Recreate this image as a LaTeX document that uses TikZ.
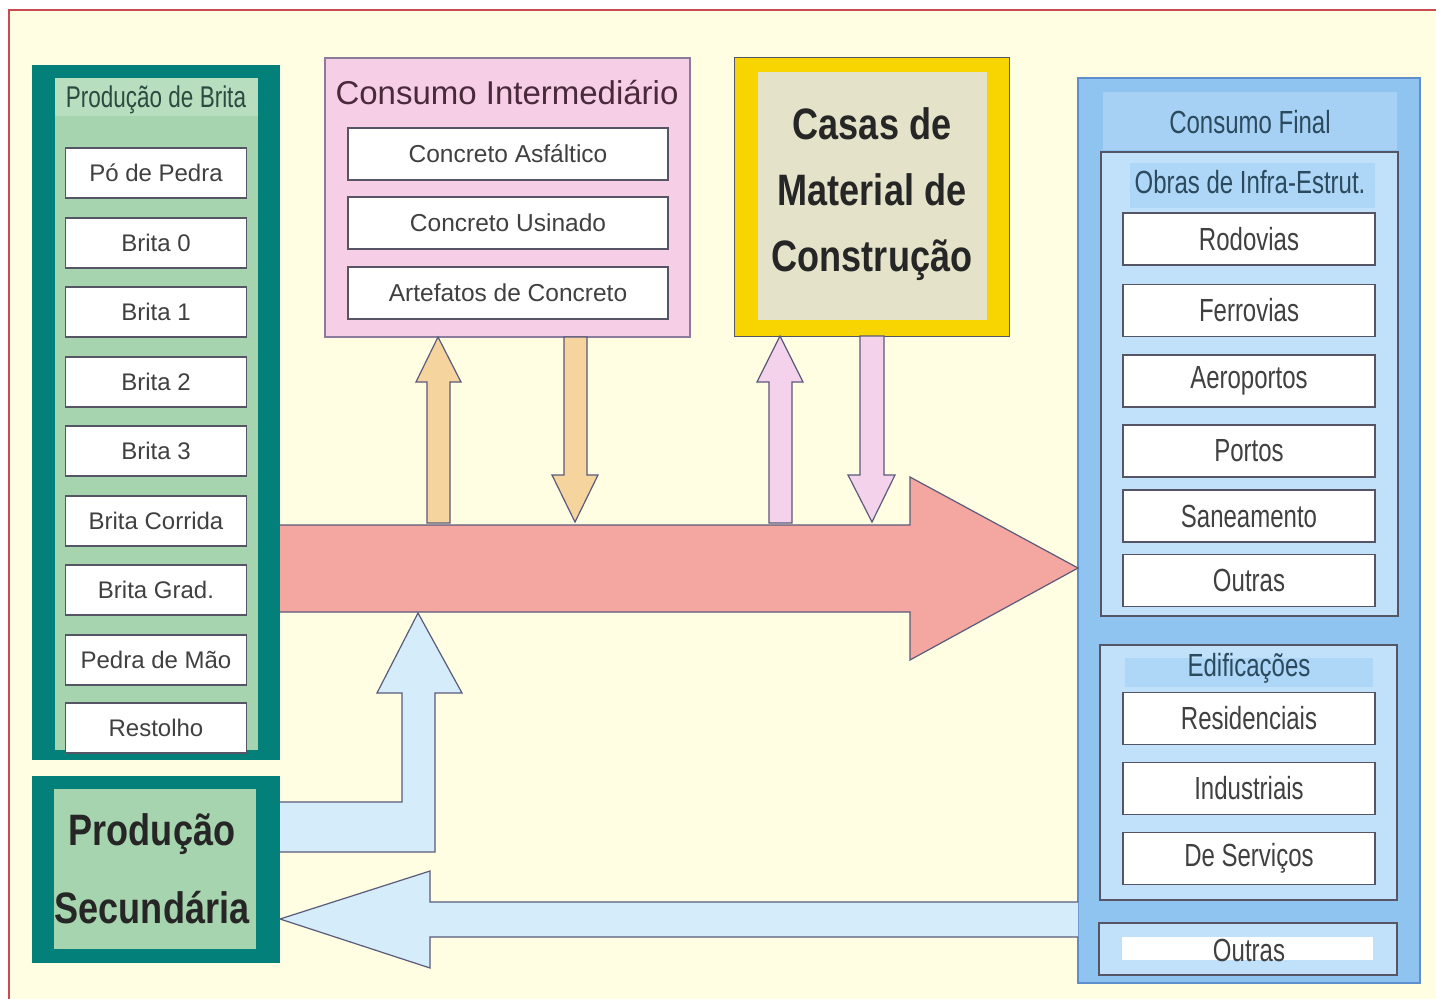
\documentclass[tikz,border=0pt]{standalone}
\usepackage{fontspec}
\setmainfont{Liberation Sans}
\newfontfamily\narrowf[FakeStretch=0.75]{Liberation Sans}
\newfontfamily\condf[FakeStretch=0.82]{Liberation Sans}
\definecolor{cream}{HTML}{FFFDE2}
\definecolor{framered}{HTML}{C94A4F}
\definecolor{teal}{HTML}{04807A}
\definecolor{lgreen}{HTML}{A6D4AE}
\definecolor{bgreen}{HTML}{B8DEC0}
\definecolor{pinkbox}{HTML}{F6CFE6}
\definecolor{pinkline}{HTML}{8C7C9C}
\definecolor{yel}{HTML}{F8D400}
\definecolor{beige}{HTML}{E4E3C9}
\definecolor{redarr}{HTML}{F3A7A0}
\definecolor{arrline}{HTML}{5A5A7A}
\definecolor{orarr}{HTML}{F6D49E}
\definecolor{pkarr}{HTML}{F4D2EC}
\definecolor{blarr}{HTML}{D5ECFB}
\definecolor{blueA}{HTML}{90C4F0}
\definecolor{blueB}{HTML}{A6D1F5}
\definecolor{blueC}{HTML}{C0E1F9}
\definecolor{blueline}{HTML}{5E8FCC}
\definecolor{boxline}{HTML}{555566}
\definecolor{txtgray}{HTML}{404040}
\definecolor{ttlgreen}{HTML}{2B4B40}
\definecolor{ttlpink}{HTML}{4A2A3A}
\definecolor{ttlblue}{HTML}{2B4A5E}
\tikzset{
  panel/.style={rectangle, inner sep=0pt, outer sep=0pt},
  itemL/.style={panel, draw=boxline, fill=white, line width=1.2pt, minimum width=181pt, minimum height=50pt, font=\fontsize{24}{28}\selectfont, text=txtgray},
  itemI/.style={panel, draw=boxline, fill=white, line width=1.2pt, minimum width=320pt, minimum height=52pt, font=\fontsize{24.5}{28}\selectfont, text=txtgray},
  itemF/.style={panel, draw=boxline, fill=white, line width=1.2pt, minimum width=252pt, minimum height=52pt, font=\narrowf\fontsize{32}{36}\selectfont, text=txtgray},
  bigtxt/.style={panel, align=center, font=\condf\bfseries\fontsize{44}{#1}\selectfont, text=black!85},
  flow/.style={fill=#1, draw=arrline, line width=1.2pt, line join=miter},
}
\begin{document}
\begin{tikzpicture}[x=1pt,y=-1pt]
\useasboundingbox (0,0) rectangle (1436,999);
\fill[white] (0,0) rectangle (1436,999);
\fill[cream] (9,10) rectangle (1436,999);
\draw[framered, line width=2pt] (9,999) -- (9,10) -- (1436,10);

% ---------- Produção de Brita ----------
\node[panel, fill=teal, minimum width=248pt, minimum height=695pt] (pb) at (156,412.5) {};
\node[panel, fill=lgreen, minimum width=203pt, minimum height=672pt] (pbin) at (156.5,414) {};
\node[panel, fill=bgreen, minimum width=203pt, minimum height=38pt] (pbband) at (156.5,97) {};
\node[panel, font=\narrowf\fontsize{30}{34}\selectfont, text=ttlgreen] (pbt) at (156,100) {Produção de Brita};
\node[itemL] (b1) at (156,173) {Pó de Pedra};
\node[itemL] (b2) at (156,243) {Brita 0};
\node[itemL] (b3) at (156,312) {Brita 1};
\node[itemL] (b4) at (156,382) {Brita 2};
\node[itemL] (b5) at (156,451) {Brita 3};
\node[itemL] (b6) at (156,521) {Brita Corrida};
\node[itemL] (b7) at (156,590) {Brita Grad.};
\node[itemL] (b8) at (156,660) {Pedra de Mão};
\node[itemL] (b9) at (156,728) {Restolho};

% ---------- Produção Secundária ----------
\node[panel, fill=teal, minimum width=248pt, minimum height=187pt] (ps) at (156,869.5) {};
\node[panel, fill=lgreen, minimum width=202pt, minimum height=160pt] (psin) at (155,869) {};
\node[bigtxt=78] (pst) at (152,869) {Produção\\Secundária};

% ---------- Consumo Intermediário ----------
\node[panel, fill=pinkbox, draw=pinkline, line width=1.5pt, minimum width=365pt, minimum height=279pt] (ci) at (507.5,197.5) {};
\node[panel, font=\fontsize{33}{37}\selectfont, text=ttlpink] (cit) at (507,93) {Consumo Intermediário};
\node[itemI] (c1) at (508,154) {Concreto Asfáltico};
\node[itemI] (c2) at (508,223) {Concreto Usinado};
\node[itemI] (c3) at (508,293) {Artefatos de Concreto};

% ---------- Casas de Material de Construção ----------
\node[panel, fill=yel, draw=boxline, line width=1pt, minimum width=275pt, minimum height=279pt] (cm) at (871.5,196.5) {};
\node[panel, fill=beige, minimum width=229pt, minimum height=248pt] (cmin) at (872.5,196) {};
\node[bigtxt=66] (cmt) at (872,194) {Casas de\\Material de\\Construção};

% ---------- Consumo Final ----------
\node[panel, fill=blueA, draw=blueline, line width=1.5pt, minimum width=342pt, minimum height=905pt] (cf) at (1249,530.5) {};
\node[panel, fill=blueB, minimum width=294pt, minimum height=58pt] (cfband) at (1250,121) {};
\node[panel, font=\narrowf\fontsize{32}{36}\selectfont, text=ttlblue] (cft) at (1250,122) {Consumo Final};

\node[panel, fill=blueC, draw=boxline, line width=1.2pt, minimum width=297pt, minimum height=464pt] (inf) at (1249.5,384) {};
\node[panel, fill=blueB!70!blueC, minimum width=245pt, minimum height=45pt] (infband) at (1252,185.5) {};
\node[panel, font=\narrowf\fontsize{32}{36}\selectfont, text=ttlblue] (inft) at (1250,182) {Obras de Infra-Estrut.};
\node[itemF] (f1) at (1249,239) {Rodovias};
\node[itemF] (f2) at (1249,310.5) {Ferrovias};
\node[itemF] (f3) at (1249,381) {Aeroportos};
\node[itemF] (f4) at (1249,451) {Portos};
\node[itemF] (f5) at (1249,516) {Saneamento};
\node[itemF] (f6) at (1249,580.5) {Outras};

\node[panel, fill=blueC, draw=boxline, line width=1.2pt, minimum width=297pt, minimum height=255pt] (edi) at (1248.5,772.5) {};
\node[panel, fill=blueB!70!blueC, minimum width=248pt, minimum height=29pt] (ediband) at (1249,672.5) {};
\node[panel, font=\narrowf\fontsize{32}{36}\selectfont, text=ttlblue] (edit) at (1249,668) {Edificações};
\node[itemF] (e1) at (1249,718.5) {Residenciais};
\node[itemF] (e2) at (1249,788.5) {Industriais};
\node[itemF] (e3) at (1249,858.5) {De Serviços};

\node[panel, fill=blueC, draw=boxline, line width=1.2pt, minimum width=298pt, minimum height=52pt] (out) at (1248,949) {};
\node[panel, fill=white, minimum width=251pt, minimum height=23pt] (outband) at (1247.5,948.5) {};
\node[panel, font=\narrowf\fontsize{32}{36}\selectfont, text=txtgray] (outt) at (1249,950) {Outras};

% ---------- Flow arrows ----------
\draw[flow=redarr] (pb.east |- 0,525) -- (910,525) -- (910,477) -- (cf.west |- 0,568) -- (910,660) -- (910,612) -- (pb.east |- 0,612);

\draw[flow=orarr] (427,523) -- (427,382) -- (416,382) -- (ci.south -| 438,0) -- (461,382) -- (450,382) -- (450,523) -- cycle;
\draw[flow=orarr] (ci.south -| 564,0) -- (564,475) -- (552,475) -- (575,522) -- (598,475) -- (587,475) -- (ci.south -| 587,0) -- cycle;

\draw[flow=pkarr] (769,523) -- (769,382) -- (757,382) -- (cm.south -| 780,0) -- (803,382) -- (792,382) -- (792,523) -- cycle;
\draw[flow=pkarr] (cm.south -| 860,0) -- (860,475) -- (848,475) -- (872,522) -- (895,475) -- (884,475) -- (cm.south -| 884,0) -- cycle;

\draw[flow=blarr] (ps.east |- 0,802) -- (402,802) -- (402,693) -- (377,693) -- (418,613) -- (462,693) -- (435,693) -- (435,852) -- (ps.east |- 0,852);

\draw[flow=blarr] (cf.west |- 0,902) -- (430,902) -- (430,871) -- (ps.east |- 0,919) -- (430,968) -- (430,937) -- (cf.west |- 0,937);
\end{tikzpicture}
\end{document}
